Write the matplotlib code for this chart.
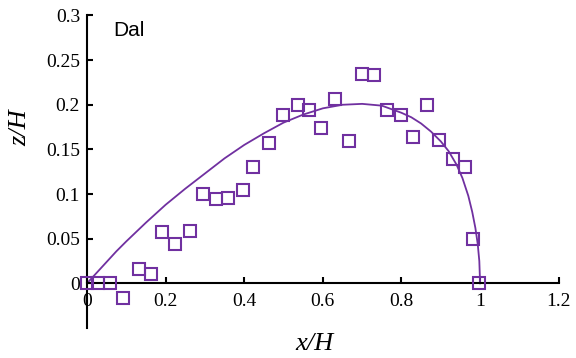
import numpy as np
import matplotlib.pyplot as plt

# measured points (x/H, z/H)
x_meas = [0.0, 0.028, 0.058, 0.091, 0.132, 0.162, 0.192, 0.225, 0.263, 0.294,
          0.327, 0.359, 0.397, 0.423, 0.463, 0.499, 0.537, 0.565, 0.595, 0.630,
          0.666, 0.699, 0.729, 0.762, 0.800, 0.830, 0.866, 0.896, 0.932, 0.962,
          0.982, 0.997]
z_meas = [0.0, 0.0, 0.0, -0.016, 0.016, 0.011, 0.057, 0.044, 0.059, 0.100,
          0.094, 0.096, 0.105, 0.130, 0.157, 0.189, 0.200, 0.194, 0.174, 0.207,
          0.159, 0.235, 0.233, 0.194, 0.189, 0.164, 0.200, 0.161, 0.139, 0.130,
          0.050, 0.0]

# fitted profile
x_fit = [0.0, 0.025, 0.05, 0.075, 0.1, 0.15, 0.2, 0.25, 0.3, 0.35, 0.4, 0.45,
         0.5, 0.55, 0.6, 0.65, 0.7, 0.75, 0.8, 0.825, 0.85, 0.875, 0.9, 0.92,
         0.94, 0.955, 0.97, 0.98, 0.988, 0.994, 0.998, 1.0]
z_fit = [0.0, 0.012, 0.024, 0.036, 0.047, 0.068, 0.088, 0.106, 0.123, 0.140,
         0.155, 0.168, 0.180, 0.189, 0.196, 0.200, 0.201, 0.199, 0.191, 0.186,
         0.179, 0.170, 0.159, 0.148, 0.133, 0.118, 0.098, 0.080, 0.062, 0.044,
         0.025, 0.0]

x_ticks = [0, 0.2, 0.4, 0.6, 0.8, 1, 1.2]
x_ticklabels = ["0", "0.2", "0.4", "0.6", "0.8", "1", "1.2"]
y_ticks = [0, 0.05, 0.1, 0.15, 0.2, 0.25, 0.3]
y_ticklabels = ["0", "0.05", "0.1", "0.15", "0.2", "0.25", "0.3"]

color = "#7030A0"

fig = plt.figure(figsize=(5.76, 3.58), dpi=100)
ax = fig.add_axes([0.151, 0.0838, 0.819, 0.873])

ax.plot(x_fit, z_fit, color=color, lw=1.3, zorder=2)
ax.plot(x_meas, z_meas, ls="none", marker="s", ms=8.5, mfc="none",
        mec=color, mew=1.5, zorder=3, clip_on=False)

ax.set_xlim(0, 1.2)
ax.set_ylim(-0.05, 0.3)

ax.spines["top"].set_visible(False)
ax.spines["right"].set_visible(False)
ax.spines["bottom"].set_position(("data", 0))
for s in ("left", "bottom"):
    ax.spines[s].set_linewidth(1.5)

ax.set_xticks(x_ticks)
ax.set_xticklabels(x_ticklabels, family="Liberation Serif", fontsize=14)
ax.set_yticks(y_ticks)
ax.set_yticklabels(y_ticklabels, family="Liberation Serif", fontsize=14)
ax.tick_params(axis="both", direction="in", length=4, width=1.5)
ax.tick_params(axis="x", pad=7)
ax.tick_params(axis="y", pad=5)

ax.set_xlabel("x/H", family="Liberation Serif", style="italic", fontsize=19)
ax.xaxis.set_label_coords(0.483, -0.015)
ax.set_ylabel("z/H", family="Liberation Serif", style="italic", fontsize=19)
ax.yaxis.set_label_coords(-0.117, 0.641)

fig.text(0.196, 0.94, "Dal", family="Liberation Sans", fontsize=15, va="top")

fig.savefig("out.png", dpi=100)
